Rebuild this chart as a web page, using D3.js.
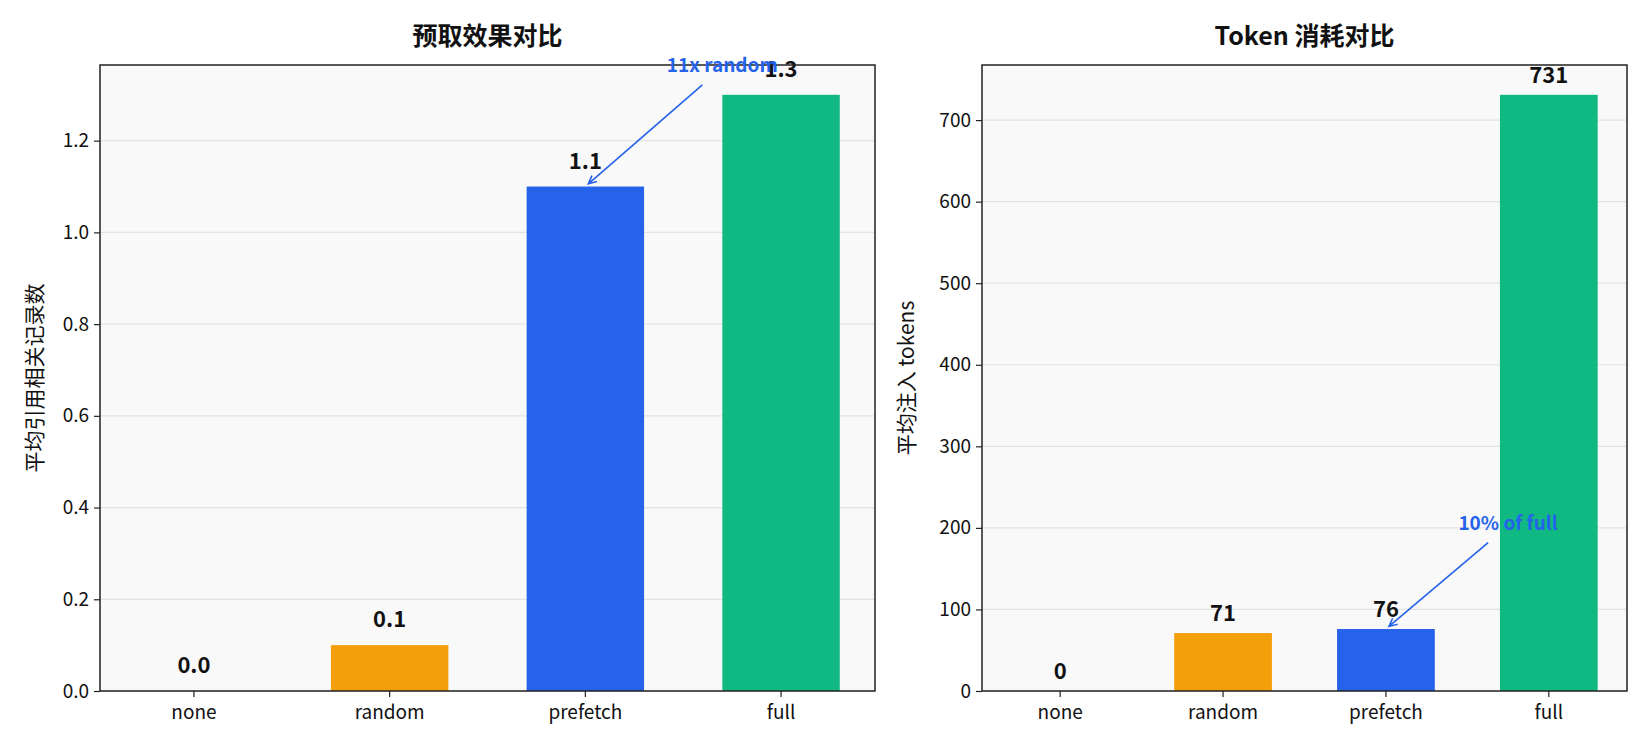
<!DOCTYPE html>
<html>
<head>
<meta charset="utf-8">
<script src="https://cdn.jsdelivr.net/npm/d3@7"></script>
<style>
  body { margin: 0; background: #fff; }
  svg { font-family: "Noto Sans CJK SC", "Noto Sans", sans-serif; }
</style>
</head>
<body>
<svg id="chart" width="1650" height="750"></svg>
<script>
(function() {
    // data
    const categories = ["none", "random", "prefetch", "full"];
    const colors = ["#f59e0b", "#f59e0b", "#2563eb", "#10b981"];
    const recallValues = [0.0, 0.1, 1.1, 1.3];
    const tokenValues = [0, 71, 76, 731];
    const recallTicks = [0, 0.2, 0.4, 0.6, 0.8, 1.0, 1.2];
    const tokenTicks = [0, 100, 200, 300, 400, 500, 600, 700];

    const svg = d3.select("#chart");
    const blue = "#2563eb";

    function drawPanel(opt) {
        const x = d3.scaleBand()
            .domain(categories)
            .range([opt.left, opt.right])
            .paddingInner(0.4)
            .paddingOuter(0.18);

        const yMax = d3.max(opt.values) * 1.05;
        const y = d3.scaleLinear()
            .domain([0, yMax])
            .range([opt.bottom, opt.top]);

        const g = svg.append("g");

        // axes background
        g.append("rect")
            .attr("x", opt.left).attr("y", opt.top)
            .attr("width", opt.right - opt.left)
            .attr("height", opt.bottom - opt.top)
            .attr("fill", "#f9f9f9");

        // horizontal grid
        g.append("g")
            .selectAll("line")
            .data(opt.ticks)
            .join("line")
            .attr("x1", opt.left).attr("x2", opt.right)
            .attr("y1", d => y(d)).attr("y2", d => y(d))
            .attr("stroke", "#e3e3e3")
            .attr("stroke-width", 1.2);

        // bars
        g.append("g")
            .selectAll("rect")
            .data(opt.values)
            .join("rect")
            .attr("x", (d, i) => x(categories[i]))
            .attr("y", d => y(d))
            .attr("width", x.bandwidth())
            .attr("height", d => y(0) - y(d))
            .attr("fill", (d, i) => colors[i]);

        // value labels
        g.append("g")
            .selectAll("text")
            .data(opt.values)
            .join("text")
            .attr("x", (d, i) => x(categories[i]) + x.bandwidth() / 2)
            .attr("y", d => y(d) - opt.labelGap)
            .attr("text-anchor", "middle")
            .attr("font-size", 22)
            .attr("font-weight", "bold")
            .attr("fill", "#111")
            .text(d => opt.fmt(d));

        // frame
        g.append("rect")
            .attr("x", opt.left).attr("y", opt.top)
            .attr("width", opt.right - opt.left)
            .attr("height", opt.bottom - opt.top)
            .attr("fill", "none")
            .attr("stroke", "#222")
            .attr("stroke-width", 1.5);

        // axes
        const yAxis = g.append("g")
            .attr("transform", `translate(${opt.left},0)`)
            .call(d3.axisLeft(y).tickValues(opt.ticks).tickFormat(opt.tickFmt).tickSize(6).tickPadding(5));
        const xAxis = g.append("g")
            .attr("transform", `translate(0,${opt.bottom})`)
            .call(d3.axisBottom(x).tickSize(6).tickPadding(6));
        [yAxis, xAxis].forEach(a => {
            a.select(".domain").remove();
            a.selectAll(".tick line").attr("stroke", "#222").attr("stroke-width", 1.2);
            a.selectAll(".tick text")
                .attr("font-size", 19)
                .attr("fill", "#111")
                .attr("font-family", "'Noto Sans CJK SC', 'Noto Sans', sans-serif");
        });
        xAxis.selectAll(".tick text").attr("dy", "0.85em");

        // title
        g.append("text")
            .attr("x", (opt.left + opt.right) / 2)
            .attr("y", 45)
            .attr("text-anchor", "middle")
            .attr("font-size", 25)
            .attr("font-weight", "bold")
            .attr("fill", "#111")
            .text(opt.title);

        // y label
        g.append("text")
            .attr("transform", `translate(${opt.ylabelX},${(opt.top + opt.bottom) / 2}) rotate(-90)`)
            .attr("text-anchor", "middle")
            .attr("dy", "0.35em")
            .attr("font-size", 21)
            .attr("fill", "#111")
            .text(opt.ylabel);

        // annotation with arrow
        const ann = opt.annotation;
        const cx = x(ann.cat) + x.bandwidth() / 2;
        const tx = cx + ann.dx * x.step();
        const ty = y(ann.textValue);
        g.append("text")
            .attr("x", tx).attr("y", ty)
            .attr("text-anchor", "middle")
            .attr("font-size", 19)
            .attr("font-weight", "bold")
            .attr("fill", blue)
            .text(ann.text);

        const sx = tx - 20, sy = ty + 13;
        const ex0 = cx, ey0 = y(ann.value);
        const ang = Math.atan2(ey0 - sy, ex0 - sx);
        const ex = ex0 - 4 * Math.cos(ang), ey = ey0 - 4 * Math.sin(ang);
        const head = 9, spread = 0.45;
        g.append("path")
            .attr("d", `M${sx},${sy}L${ex},${ey}` +
                `M${ex - head * Math.cos(ang - spread)},${ey - head * Math.sin(ang - spread)}` +
                `L${ex},${ey}` +
                `L${ex - head * Math.cos(ang + spread)},${ey - head * Math.sin(ang + spread)}`)
            .attr("fill", "none")
            .attr("stroke", blue)
            .attr("stroke-width", 1.6);
    }

    drawPanel({
        left: 100, right: 875, top: 65, bottom: 691,
        values: recallValues, ticks: recallTicks,
        tickFmt: d3.format(".1f"), fmt: d3.format(".1f"), labelGap: 18,
        title: "预取效果对比", ylabel: "平均引用相关记录数", ylabelX: 35,
        annotation: { cat: "prefetch", value: 1.1, textValue: 1.35, dx: 0.7, text: "11x random" }
    });

    drawPanel({
        left: 982, right: 1627, top: 65, bottom: 691,
        values: tokenValues, ticks: tokenTicks,
        tickFmt: d3.format("d"), fmt: d3.format("d"), labelGap: 12,
        title: "Token 消耗对比", ylabel: "平均注入 tokens", ylabelX: 907,
        annotation: { cat: "prefetch", value: 76, textValue: 198, dx: 0.75, text: "10% of full" }
    });
})();
</script>
</body>
</html>
